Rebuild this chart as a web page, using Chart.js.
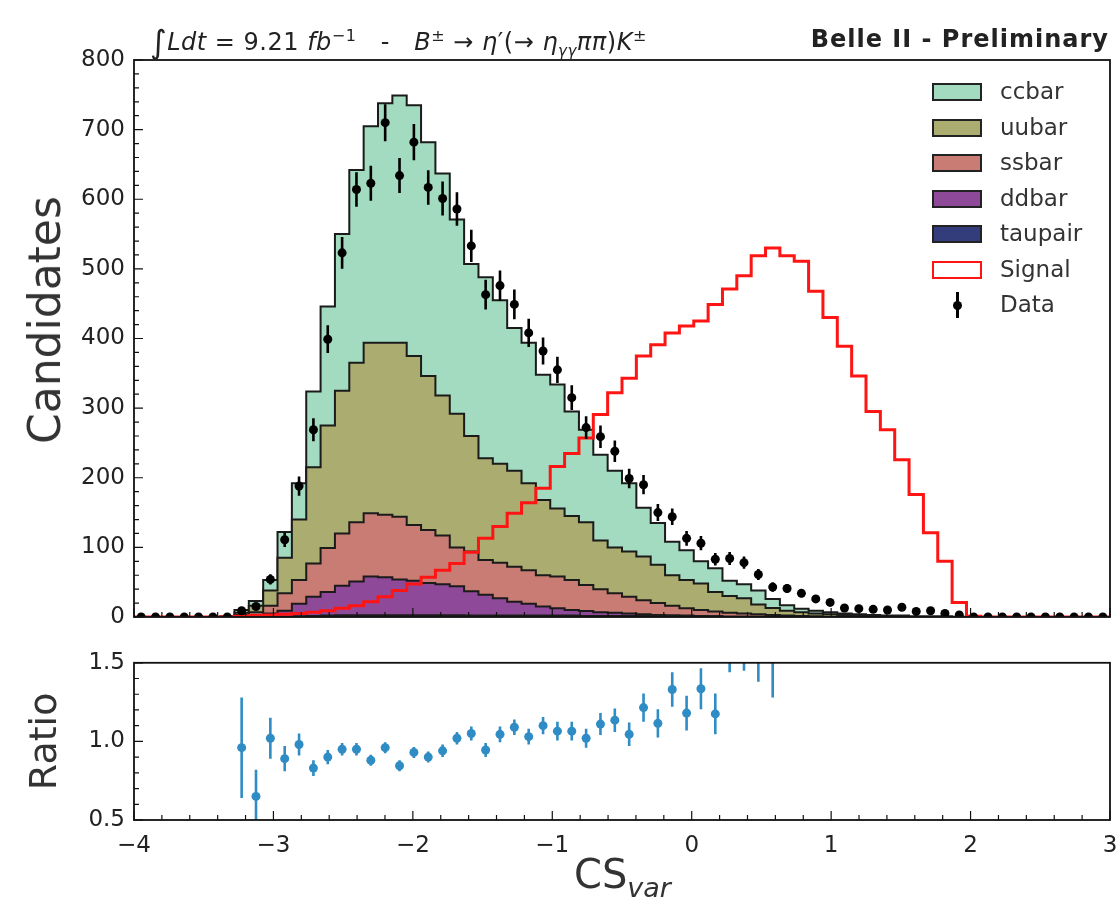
<!DOCTYPE html>
<html><head><meta charset="utf-8">
<script src="https://cdn.jsdelivr.net/npm/chart.js@4.4.1/dist/chart.umd.min.js"></script>
<style>
html,body{margin:0;padding:0;background:#fff;}
#wrap{position:relative;width:1116px;height:906px;overflow:hidden;font-family:"DejaVu Sans",sans-serif;color:#222;}
canvas{position:absolute;left:0;}
#c1{top:0;}
#c2{top:640px;}
.txt{position:absolute;white-space:nowrap;}
.lg{position:absolute;left:932px;width:46px;height:14px;border:2px solid #222;}
.lgt{position:absolute;left:1000px;font-size:23px;line-height:26px;color:#333;}
</style></head>
<body><div id="wrap">
<canvas id="c1" width="1116" height="640"></canvas>
<canvas id="c2" width="1116" height="266"></canvas>
<div class="txt" style="left:150px;top:21px;font-size:24px;letter-spacing:0.5px;line-height:30px;color:#222;"><span style="font-size:32px;position:relative;top:3px;">∫</span><i>Ldt</i> = 9.21 <i>fb</i><sup style="font-size:16px;">−1</sup> &nbsp; - &nbsp; <i>B</i><sup style="font-size:16px;">±</sup> → <i>η</i>′(→ <i>η</i><sub style="font-size:15px;"><i>γγ</i></sub><i>ππ</i>)<i>K</i><sup style="font-size:16px;">±</sup></div>
<div class="txt" style="right:7px;top:25px;font-size:24px;letter-spacing:1px;font-weight:bold;line-height:28px;color:#222;">Belle II - Preliminary</div>
<div class="txt" style="left:45px;top:320px;font-size:44px;line-height:48px;color:#333;transform:translate(-50%,-50%) rotate(-90deg);">Candidates</div>
<div class="txt" style="left:574px;top:852px;font-size:40px;line-height:44px;color:#333;">CS<span style="font-size:27px;font-style:italic;position:relative;top:9px;">var</span></div>
<div id="legend"></div>
</div>
<script>
// ---- binning (categories) ----
const X_MIN = -4, X_MAX = 3, NBINS = 68;
const binEdges = Array.from({length: NBINS + 1}, (_, k) => X_MIN + k * (X_MAX - X_MIN) / NBINS);
const binCenters = binEdges.slice(0, -1).map((e, k) => (e + binEdges[k + 1]) / 2);

// ---- series values (candidates per bin) ----
const taupair = [0,0,0,0,0,0,0,0,0,0, 0.5,1,1.5,2,2.5,2.5,2.5,2.5,2.5,2.5, 2.5,2.5,2.5,2,2,2,2,2,2,2, 2,1.5,1.5,1.5,1.5,1.5,1.5,1,1,1, 1,0.5,0.5,0.5,0.5,0.5,0,0,0,0, 0,0,0,0,0,0,0,0,0,0, 0,0,0,0,0,0,0,0];
const ddbar   = [0,0,0,0,0,0,0,1,3,5, 8.5,18,27.5,34,42.5,48.5,55.5,54.5,51.5,49.5, 46.5,44.5,41.5,35,30,25,20,17,13,10.5, 8,7,5.5,4.5,3.5,2.5,1.5,1.5,1,0.5, 0,0,0,0,0,0,0,0,0,0, 0,0,0,0,0,0,0,0,0,0, 0,0,0,0,0,0,0,0];
const ssbar   = [0,0,0,0,0,0,0,2,4,11, 25,34,48,63,75,85,91,90,90,80, 76,70,56,57,50,51,50,48,45,45.5, 43,37.5,33,28,24,20,17,13.5,10.5,8.5, 7,5.5,4.5,3.5,2.5,1.5,1.5,1,0.5,0, 0,0,0,0,0,0,0,0,0,0, 0,0,0,0,0,0,0,0];
const uubar   = [0,0,0,0,0,0,0,3,9,22, 51,87,138,176,205,229,245,247,250,243, 221,201,192,166,146,142,138,125,108,98, 92,90,70,66,65,63,55,44,40.5,38, 28,24,22,14,10,7,5.5,4,3.5,3, 2,1.5,1,1,0,0,0,0,0,0, 0,0,0,0,0,0,0,0];
const ccbar   = [0,0,0,0,0,0,1,4,7,15, 37,52,109,171,225,277,311,344,355,360, 336,319,279,247,260,235,205,202,180,178, 150,133,123,110,98,70,60,48,43,32, 34,22,20,20,13,8,5,4,3,2, 2,1.5,1,1,1,1,1,0.5,0,0, 0,0,0,0,0,0,0,0];
const signal  = [0,0,0,0,0,0,0,1,2,3, 4,5,7,9,12.5,16,22,29,38,47.5, 57,67,77,93,113,130,149,164,185,216, 235,257,291,322,343,375,391,408,418,425, 449,471,490,519,530,519,511,468,430,389, 346,295,269,226,176,121,80,21,1,0, 0,0,0,0,0,0,0,0];
const dataVals = [0,0,0,0,0,0,0,9,15,54, 111,188,269,399,523,614,623,710,634,682, 617,601,586,533,463,476,449,408,382,355, 315,272,259,238,199,190,150,144,113,106, 83,84,78,61,43,41,34,26,21,13, 12,11,10,14,8,9,5,3,0,0, 0,0,0,0,0,0,0,0];
const dataErr  = [0,0,0,0,0,0,0,3,3.9,7.3, 10.5,13.7,16.4,20,22.9,24.8,25,26.6,25.2,26.1, 24.8,24.5,24.2,23.1,21.5,21.8,21.2,20.2,19.5,18.8, 17.7,16.5,16.1,15.4,14.1,13.8,12.2,12,10.6,10.3, 9.1,9.2,8.8,7.8,6.6,6.4,5.8,5.1,4.6,3.6, 3.5,3.3,3.2,3.7,2.8,3,2.2,1.7,0,0, 0,0,0,0,0,0,0,0];
const ratioVals = [null,null,null,null,null,null,null,0.96,0.65,1.02, 0.89,0.98,0.83,0.90,0.95,0.95,0.88,0.96,0.845,0.93, 0.90,0.94,1.02,1.05,0.945,1.045,1.09,1.03,1.10,1.065, 1.065,1.02,1.11,1.135,1.045,1.215,1.115,1.33,1.18,1.335, 1.175,1.62,1.64,1.58,1.55,null,null,null,null,null, null,null,null,null,null,null,null,null,null,null, null,null,null,null,null,null,null,null];
const ratioErr  = [0,0,0,0,0,0,0,0.32,0.17,0.13, 0.08,0.07,0.05,0.045,0.04,0.04,0.035,0.035,0.035,0.035, 0.035,0.04,0.04,0.045,0.045,0.05,0.05,0.05,0.055,0.06, 0.06,0.06,0.07,0.075,0.075,0.09,0.09,0.11,0.11,0.13, 0.13,0.18,0.19,0.2,0.27,0,0,0,0,0, 0,0,0,0,0,0,0,0,0,0, 0,0,0,0,0,0,0,0];

// ---- tick labels ----
const mainYTicks = [0,100,200,300,400,500,600,700,800];
const ratioYTicks = [0.5,1.0,1.5];
const xTicks = [-4,-3,-2,-1,0,1,2,3];

// ---- styles ----
const stackLayers = [
  {label:'taupair', vals: taupair, color:'#333d7c'},
  {label:'ddbar',   vals: ddbar,   color:'#8e4a98'},
  {label:'ssbar',   vals: ssbar,   color:'#c97c74'},
  {label:'uubar',   vals: uubar,   color:'#abac6f'},
  {label:'ccbar',   vals: ccbar,   color:'#a2dbbf'}
];
const OUTLINE = '#1b1b1b', SIGNAL_COLOR = '#ff1414', RATIO_COLOR = '#2f8cc4';

Chart.defaults.font.family = "'DejaVu Sans', sans-serif";
Chart.defaults.color = '#222';

// bin value k spans [edge k, edge k+1]
const stepPts = arr => binEdges.map((e, k) => ({x: e, y: arr[Math.min(k, NBINS - 1)]}));

const cum = [];
let running = new Array(NBINS).fill(0);
stackLayers.forEach(l => { running = running.map((v, i) => v + l.vals[i]); cum.push(running.slice()); });

const histDatasets = stackLayers.map((l, i) => ({
  type: 'line', label: l.label, data: stepPts(cum[i]), stepped: 'before',
  fill: 'origin', backgroundColor: l.color, borderColor: OUTLINE, borderWidth: 2,
  pointRadius: 0, order: 10 + i
}));

const framePlugin = {
  id: 'frame',
  afterDraw(chart, args, o) {
    const {ctx, chartArea: a, scales} = chart;
    const xs = scales.x, ys = scales.y;
    ctx.save();
    ctx.strokeStyle = '#111';
    ctx.lineWidth = 1.2;
    ctx.beginPath();
    const nx = Math.round((xs.max - xs.min) / o.xMinor);
    for (let i = 0; i <= nx; i++) {
      const v = xs.min + i * o.xMinor;
      const major = Math.abs(v / o.xMajor - Math.round(v / o.xMajor)) < 1e-6;
      const px = xs.getPixelForValue(v);
      ctx.moveTo(px, a.bottom); ctx.lineTo(px, a.bottom - (major ? 9 : 5));
    }
    const ny = Math.round((ys.max - ys.min) / o.yMinor);
    for (let i = 0; i <= ny; i++) {
      const v = ys.min + i * o.yMinor;
      const major = Math.abs(v / o.yMajor - Math.round(v / o.yMajor)) < 1e-6;
      const py = ys.getPixelForValue(v);
      ctx.moveTo(a.left, py); ctx.lineTo(a.left + (major ? 9 : 5), py);
    }
    ctx.stroke();
    ctx.lineWidth = 1.8;
    ctx.strokeRect(a.left, a.top, a.right - a.left, a.bottom - a.top);
    ctx.restore();
  }
};

const errPlugin = {
  id: 'errbars',
  afterDatasetsDraw(chart, args, o) {
    const {ctx, chartArea: a, scales} = chart;
    const ds = chart.data.datasets[o.datasetIndex];
    ctx.save();
    ctx.beginPath(); ctx.rect(a.left, a.top, a.right - a.left, a.bottom - a.top); ctx.clip();
    ctx.strokeStyle = o.color; ctx.lineWidth = o.width;
    ctx.beginPath();
    ds.data.forEach(p => {
      if (!p.e) return;
      const px = scales.x.getPixelForValue(p.x);
      ctx.moveTo(px, scales.y.getPixelForValue(p.y - p.e));
      ctx.lineTo(px, scales.y.getPixelForValue(p.y + p.e));
    });
    ctx.stroke();
    ctx.restore();
  }
};

const fixW = w => s => { s.width = w; };
// fixed height and no label-overhang padding, so both panels share the same plot width
const fixH = h => s => { s.height = h; s.paddingLeft = 0; s.paddingRight = 0; };

// ---------------- main panel ----------------
new Chart(document.getElementById('c1'), {
  type: 'line',
  data: {
    datasets: [
      ...histDatasets,
      {type: 'line', label: 'Signal', data: stepPts(signal), stepped: 'before', fill: false,
       borderColor: SIGNAL_COLOR, borderWidth: 3, pointRadius: 0, order: 2},
      {type: 'line', label: 'Data', showLine: false,
       data: binCenters.map((x, i) => ({x, y: dataVals[i], e: dataErr[i]})),
       pointRadius: 4.5, pointBackgroundColor: '#000', pointBorderWidth: 0, order: 1}
    ]
  },
  options: {
    responsive: false, animation: false, events: [],
    layout: {padding: {left: 0, right: 6, top: 60, bottom: 23}},
    plugins: {legend: {display: false}, tooltip: {enabled: false},
      frame: {xMinor: 0.2, xMajor: 1, yMinor: 20, yMajor: 100},
      errbars: {datasetIndex: 6, color: '#000', width: 2.6}},
    scales: {
      x: {type: 'linear', min: X_MIN, max: X_MAX, display: false},
      y: {type: 'linear', min: 0, max: 800, afterFit: fixW(134),
          afterBuildTicks: s => { s.ticks = mainYTicks.map(v => ({value: v})); },
          grid: {display: false, drawTicks: false}, border: {display: false},
          ticks: {padding: 9, font: {size: 23}, color: '#222'}}
    }
  },
  plugins: [framePlugin, errPlugin]
});

// ---------------- ratio panel ----------------
new Chart(document.getElementById('c2'), {
  type: 'line',
  data: {
    datasets: [
      {type: 'line', label: 'Ratio', showLine: false,
       data: binCenters.map((x, i) => ({x, y: ratioVals[i], e: ratioErr[i]})).filter(p => p.y !== null),
       pointRadius: 4.5, pointBackgroundColor: RATIO_COLOR, pointBorderWidth: 0}
    ]
  },
  options: {
    responsive: false, animation: false, events: [],
    layout: {padding: {left: 0, right: 6, top: 13, bottom: 0}},
    plugins: {legend: {display: false}, tooltip: {enabled: false},
      frame: {xMinor: 0.2, xMajor: 1, yMinor: 0.1, yMajor: 0.5},
      errbars: {datasetIndex: 0, color: RATIO_COLOR, width: 2.6}},
    scales: {
      x: {type: 'linear', min: X_MIN, max: X_MAX, afterFit: fixH(86),
          afterBuildTicks: s => { s.ticks = xTicks.map(v => ({value: v})); },
          grid: {display: false, drawTicks: false}, border: {display: false},
          ticks: {padding: 12, font: {size: 23}, color: '#222', maxRotation: 0,
                  callback: v => (v < 0 ? '\u2212' + Math.abs(v) : String(v))}},
      y: {type: 'linear', min: 0.5, max: 1.5, afterFit: fixW(134),
          afterBuildTicks: s => { s.ticks = ratioYTicks.map(v => ({value: v})); },
          grid: {display: false, drawTicks: false}, border: {display: false},
          ticks: {padding: 9, font: {size: 23}, color: '#222', callback: v => Number(v).toFixed(1)},
          title: {display: true, text: 'Ratio', font: {size: 38}, color: '#333', padding: {top: 23, bottom: 0}}}
    }
  },
  plugins: [framePlugin, errPlugin]
});

// ---------------- legend (HTML text) ----------------
const legendItems = [
  {label: 'ccbar', fill: '#a2dbbf', edge: '#222'},
  {label: 'uubar', fill: '#abac6f', edge: '#222'},
  {label: 'ssbar', fill: '#c97c74', edge: '#222'},
  {label: 'ddbar', fill: '#8e4a98', edge: '#222'},
  {label: 'taupair', fill: '#333d7c', edge: '#222'},
  {label: 'Signal', fill: '#ffffff', edge: SIGNAL_COLOR},
  {label: 'Data', marker: true}
];
const lg = document.getElementById('legend');
legendItems.forEach((it, i) => {
  const cy = 92 + i * 35.5;
  if (it.marker) {
    lg.insertAdjacentHTML('beforeend',
      `<div style="position:absolute;left:956px;top:${cy-13}px;width:2.5px;height:26px;background:#000"></div>` +
      `<div style="position:absolute;left:953px;top:${cy-4.5}px;width:9px;height:9px;border-radius:50%;background:#000"></div>`);
  } else {
    lg.insertAdjacentHTML('beforeend',
      `<div class="lg" style="top:${cy-9}px;background:${it.fill};border-color:${it.edge};${it.edge===SIGNAL_COLOR?'border-width:2.5px;':''}"></div>`);
  }
  lg.insertAdjacentHTML('beforeend', `<div class="lgt" style="top:${cy-14}px">${it.label}</div>`);
});
</script>
</body></html>
